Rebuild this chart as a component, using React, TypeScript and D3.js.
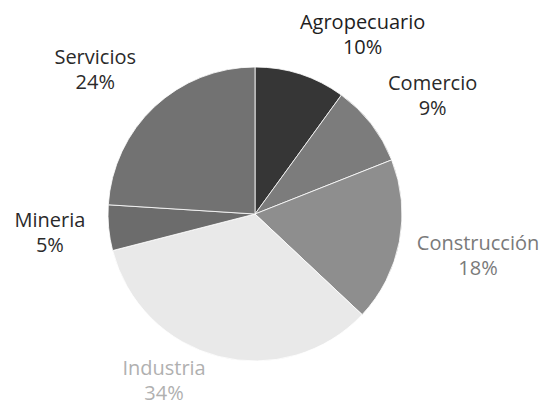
import React from "react";
import * as d3 from "d3";

const categories = ["Agropecuario", "Comercio", "Construcción", "Industria", "Mineria", "Servicios"];
const values = [10, 9, 18, 34, 5, 24];
const percentLabels = ["10%", "9%", "18%", "34%", "5%", "24%"];
const sliceColors = ["#363636", "#7c7c7c", "#8e8e8e", "#e9e9e9", "#6c6c6c", "#727272"];
const labelColors = ["#1e1e1e", "#2a2a2a", "#7a7a7a", "#b0b0b0", "#2a2a2a", "#2a2a2a"];
// label layout: [angle in degrees clockwise from 12 o'clock, distance from centre]
const labelLayout: [number, number][] = [
  [31, 209],
  [56.5, 213],
  [100.7, 227],
  [208.6, 190],
  [264.7, 206],
  [312, 215],
];

const W = 544;
const H = 405;
const cx = 255;
const cy = 214;
const R = 147;

export default function App() {
  const pie = d3.pie<number>().sort(null).value((d) => d);
  const arcs = pie(values);
  const arc = d3.arc<d3.PieArcDatum<number>>().innerRadius(0).outerRadius(R);

  return (
    <svg
      width={W}
      height={H}
      style={{ position: "absolute", left: 0, top: 0, background: "#ffffff" }}
      fontFamily="'Open Sans', sans-serif"
    >
      <g transform={`translate(${cx},${cy})`}>
        {arcs.map((a, i) => (
          <path key={i} d={arc(a) || ""} fill={sliceColors[i]} stroke="#ffffff" strokeWidth={0.8} />
        ))}
        {arcs.map((a, i) => {
          const [deg, dist] = labelLayout[i];
          const t = (deg * Math.PI) / 180;
          const x = Math.sin(t) * dist;
          const y = -Math.cos(t) * dist;
          return (
            <text key={i} textAnchor="middle" fontSize={20} fill={labelColors[i]}>
              <tspan x={x} y={y - 6}>{categories[i]}</tspan>
              <tspan x={x} y={y + 19}>{percentLabels[i]}</tspan>
            </text>
          );
        })}
      </g>
    </svg>
  );
}
